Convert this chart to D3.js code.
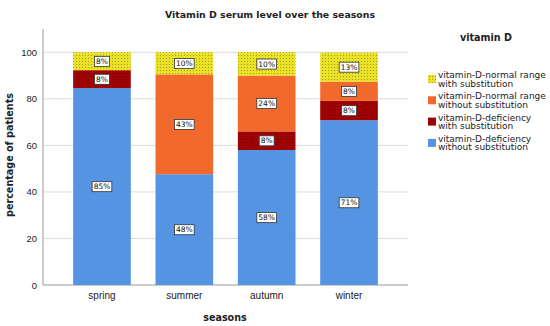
<!DOCTYPE html>
<html>
<head>
<meta charset="utf-8">
<script src="https://cdn.jsdelivr.net/npm/d3@7"></script>
<style>
  body { margin: 0; background: #fff; }
  svg { font-family: "DejaVu Sans", sans-serif; }
  .tick text { fill: #222; font-size: 10px; }
</style>
</head>
<body>
<svg id="chart" width="550" height="326"></svg>
<script>
// data (percent of patients per season)
const SEASONS = ['spring', 'summer', 'autumn', 'winter'];
const DEF_NO_SUB = [84.6, 47.6, 58.0, 70.8];
const DEF_SUB = [7.7, 0, 8.0, 8.3];
const NORMAL_NO_SUB = [0, 42.9, 24.0, 8.3];
const NORMAL_SUB = [7.7, 9.5, 10.0, 12.5];
const SERIES_KEYS = ['defNoSub', 'defSub', 'normNoSub', 'normSub'];
const SERIES_LABELS = [
  ['vitamin-D-deficiency', 'without substitution'],
  ['vitamin-D-deficiency', 'with substitution'],
  ['vitamin-D-normal range', 'without substitution'],
  ['vitamin-D-normal range', 'with substitution']
];
const Y_TICKS = [0, 20, 40, 60, 80, 100];

const rows = SEASONS.map((s, i) => ({
  season: s,
  defNoSub: DEF_NO_SUB[i],
  defSub: DEF_SUB[i],
  normNoSub: NORMAL_NO_SUB[i],
  normSub: NORMAL_SUB[i]
}));

const svg = d3.select('#chart');
const plotLeft = 43, plotRight = 408, plotTop = 29, plotBottom = 285;

const x = d3.scaleBand()
  .domain(SEASONS)
  .range([plotLeft + 17.8, plotRight - 17.8])
  .paddingInner(0.3)
  .paddingOuter(0.15);

const y = d3.scaleLinear().domain([0, 110]).range([plotBottom, plotTop]);

// patterns for the "with substitution" fills
const defs = svg.append('defs');
const pY = defs.append('pattern').attr('id', 'dotYellow')
  .attr('width', 3).attr('height', 3).attr('patternUnits', 'userSpaceOnUse');
pY.append('rect').attr('width', 3).attr('height', 3).attr('fill', '#e9e227');
pY.append('rect').attr('x', 1).attr('y', 1).attr('width', 1).attr('height', 1).attr('fill', '#a89d18');
const pR = defs.append('pattern').attr('id', 'dotRed')
  .attr('width', 3).attr('height', 3).attr('patternUnits', 'userSpaceOnUse');
pR.append('rect').attr('width', 3).attr('height', 3).attr('fill', '#9e0406');
pR.append('rect').attr('x', 1).attr('y', 1).attr('width', 1).attr('height', 1).attr('fill', '#850002');

const color = d3.scaleOrdinal()
  .domain(SERIES_KEYS)
  .range(['#5593e3', 'url(#dotRed)', '#f1692b', 'url(#dotYellow)']);
const swatch = d3.scaleOrdinal()
  .domain(SERIES_KEYS)
  .range(['#5593e3', '#9e0406', '#f1692b', '#e1d52a']);

// grid
svg.append('g')
  .selectAll('line')
  .data(Y_TICKS.filter(d => d > 0))
  .join('line')
  .attr('x1', plotLeft).attr('x2', plotRight)
  .attr('y1', d => y(d)).attr('y2', d => y(d))
  .attr('stroke', '#dcdcdc');

// y axis
const yAxis = svg.append('g')
  .attr('transform', `translate(${plotLeft},0)`)
  .call(d3.axisLeft(y).tickValues(Y_TICKS).tickSize(0).tickPadding(6));
yAxis.select('.domain').attr('stroke', '#999').attr('d', `M0,${plotBottom}V${plotTop}`);
yAxis.selectAll('.tick text').style('font-size', '9.5px');

// x axis
const xAxis = svg.append('g')
  .attr('transform', `translate(0,${plotBottom})`)
  .call(d3.axisBottom(x).tickSize(0).tickPadding(7));
xAxis.select('.domain').attr('stroke', '#999').attr('d', `M${plotLeft},0H${plotRight}`);
xAxis.selectAll('.tick text').style('font-size', '10px');

// bars
const stack = d3.stack().keys(SERIES_KEYS);
const layers = stack(rows);

svg.append('g')
  .selectAll('g')
  .data(layers)
  .join('g')
  .attr('fill', d => color(d.key))
  .selectAll('rect')
  .data(d => d.filter(s => s[1] - s[0] > 0))
  .join('rect')
  .attr('x', d => x(d.data.season))
  .attr('width', x.bandwidth())
  .attr('y', d => y(d[1]))
  .attr('height', d => y(d[0]) - y(d[1]));

// value labels
const labels = [];
layers.forEach(l => l.forEach(s => {
  if (s[1] - s[0] > 0) labels.push({ season: s.data.season, mid: (s[0] + s[1]) / 2, v: s[1] - s[0] });
}));

const lab = svg.append('g')
  .selectAll('g')
  .data(labels)
  .join('g')
  .attr('transform', d => `translate(${x(d.season) + x.bandwidth() / 2},${y(d.mid)})`);
lab.append('text')
  .attr('text-anchor', 'middle')
  .attr('dy', '0.35em')
  .style('font-size', '7.5px')
  .attr('fill', '#111')
  .text(d => Math.round(d.v) + '%');
lab.each(function () {
  const g = d3.select(this);
  const b = g.select('text').node().getBBox();
  g.insert('rect', 'text')
    .attr('x', b.x - 1.5).attr('y', b.y - 0.5)
    .attr('width', b.width + 3).attr('height', b.height + 1)
    .attr('fill', '#fff').attr('stroke', '#333').attr('stroke-width', 0.8);
});

// titles
svg.append('text')
  .attr('x', 270).attr('y', 18)
  .attr('text-anchor', 'middle')
  .style('font-size', '9.4px').style('font-weight', 'bold').attr('fill', '#222')
  .text('Vitamin D serum level over the seasons');

svg.append('text')
  .attr('x', 225).attr('y', 321)
  .attr('text-anchor', 'middle')
  .style('font-size', '9.6px').style('font-weight', 'bold').attr('fill', '#222')
  .text('seasons');

svg.append('text')
  .attr('transform', `translate(13,155) rotate(-90)`)
  .attr('text-anchor', 'middle')
  .style('font-size', '9.6px').style('font-weight', 'bold').attr('fill', '#222')
  .text('percentage of patients');

// legend
svg.append('text')
  .attr('x', 486).attr('y', 41)
  .attr('text-anchor', 'middle')
  .style('font-size', '9.6px').style('font-weight', 'bold').attr('fill', '#222')
  .text('vitamin D');

const legendOrder = SERIES_KEYS.slice().reverse();
const leg = svg.append('g')
  .selectAll('g')
  .data(legendOrder)
  .join('g')
  .attr('transform', (d, i) => `translate(428,${75 + i * 21.3})`);
leg.append('rect')
  .attr('y', 0).attr('width', 8).attr('height', 8)
  .attr('fill', d => d === 'normSub' ? 'url(#dotYellow)' : swatch(d));
leg.append('text')
  .attr('x', 10)
  .style('font-size', '9px').attr('fill', '#222')
  .selectAll('tspan')
  .data(d => SERIES_LABELS[SERIES_KEYS.indexOf(d)])
  .join('tspan')
  .attr('x', 10)
  .attr('y', (d, i) => 3 + i * 8.5)
  .text(d => d);
</script>
</body>
</html>
